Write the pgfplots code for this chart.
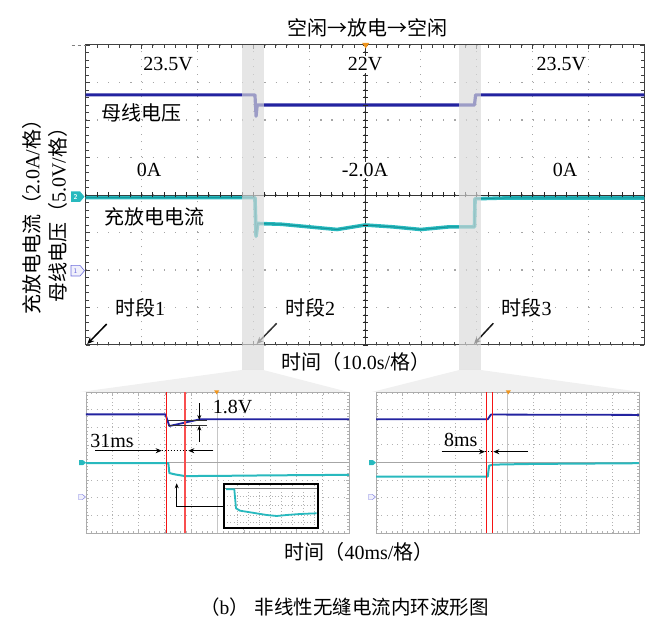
\documentclass[border=0pt]{standalone}
\usepackage{pgfplots}
\pgfplotsset{compat=1.18}
\usepackage{fontspec}
\setmainfont{Liberation Serif}
\newfontfamily\cjk{Noto Sans CJK SC}
\usetikzlibrary{arrows.meta}
\definecolor{scblue}{RGB}{35,35,160}
\definecolor{sccyan}{RGB}{40,185,190}
\definecolor{scteal}{RGB}{20,150,155}
\definecolor{bandc}{gray}{0.85}
\definecolor{scorange}{RGB}{240,150,30}
\definecolor{tagblue}{RGB}{110,110,220}
\definecolor{scred}{RGB}{245,20,20}
\newcommand\fs{\fontsize{20}{24}\selectfont}
\pgfplotsset{
 sub/.style={scale only axis, width=263pt, height=141pt, anchor=south west,
  xmin=0,xmax=10,ymin=-4,ymax=4, xtick={0,...,10}, ytick={-4,...,4},
  xticklabels={}, yticklabels={},
  minor x tick num=4, minor y tick num=4, tick align=inside,
  major tick length=2.5pt, minor tick length=1.8pt,
  every tick/.style={gray!60, line width=0.4pt},
  axis line style={gray!65, line width=0.8pt},
  axis background/.style={fill=white},
  xmajorgrids, ymajorgrids,
  grid style={gray!60, line width=0.8pt},
  every axis x grid/.append style={dash pattern=on 0.9pt off 2.625pt},
  every axis y grid/.append style={dash pattern=on 0.9pt off 4.36pt},
 }
}
\begin{document}
\begin{tikzpicture}
\begin{scope}[x=1pt,y=1pt]
\path[use as bounding box] (0,0) rectangle (665,627);
% funnels (background)
\fill[gray!12] (241.7,257) -- (263.3,257) -- (348.3,235) -- (80,235) -- cycle;
\fill[gray!12] (459.3,257) -- (480.7,257) -- (641,235) -- (372,235) -- cycle;
\end{scope}

% ---------- main scope ----------
\begin{axis}[
 at={(85.7pt,282pt)}, anchor=south west, scale only axis, width=558.6pt, height=300pt,
 xmin=0,xmax=10,ymin=-4,ymax=4,
 xtick={0,...,10}, ytick={-4,...,4}, xticklabels={}, yticklabels={},
 minor x tick num=4, minor y tick num=4,
 tick align=inside, major tick length=4pt, minor tick length=3pt,
 every tick/.style={gray!50!black, line width=0.6pt},
 axis line style={gray!50!black, line width=1pt},
 xmajorgrids, ymajorgrids,
 grid style={gray!70, line width=1.1pt},
 every axis x grid/.append style={dash pattern=on 1.2pt off 6.3pt},
 every axis y grid/.append style={dash pattern=on 1.2pt off 9.972pt},
]
\draw[gray!40!black, line width=0.9pt] (axis cs:0,0) -- (axis cs:10,0);
\draw[black!80, line width=0.9pt] (axis cs:5,-4) -- (axis cs:5,4);
\addplot[scblue, line width=3.2pt, line join=round] coordinates {
 (0,2.67)(3.03,2.67)(3.05,2.1)(3.07,2.4)(4,2.4)(5,2.4)(6,2.4)(6.96,2.4)(6.98,2.67)(10,2.67)};
\addplot[sccyan, line width=3.6pt, line join=round] coordinates {
 (0,-0.07)(3.03,-0.07)(3.05,-1.1)(3.08,-0.76)(3.5,-0.78)(4,-0.85)(4.5,-0.92)(5,-0.8)(5.5,-0.85)(6,-0.92)(6.5,-0.85)(6.96,-0.85)(6.97,-0.1)(7.5,-0.08)(10,-0.08)};
\addplot[scteal, line width=1pt, line join=round] coordinates {
 (0,-0.07)(3.03,-0.07)(3.05,-1.1)(3.08,-0.76)(3.5,-0.78)(4,-0.85)(4.5,-0.92)(5,-0.8)(5.5,-0.85)(6,-0.92)(6.5,-0.85)(6.96,-0.85)(6.97,-0.1)(7.5,-0.08)(10,-0.08)};
\end{axis}

% ---------- left subplot ----------
\begin{axis}[sub, at={(86pt,94pt)}]
\draw[gray!45, line width=0.6pt] (axis cs:5,-4) -- (axis cs:5,4);
\draw[gray!70, line width=0.8pt] (axis cs:0,0) -- (axis cs:10,0);
\addplot[scblue, line width=1.8pt, line join=round] coordinates {
 (0,2.73)(3.02,2.73)(3.17,2.07)(4.33,2.45)(10,2.45)};
\addplot[sccyan, line width=2pt, line join=round] coordinates {
 (0,-0.03)(3.13,-0.03)(3.17,-0.6)(3.4,-0.68)(3.76,-0.77)(5,-0.76)(7,-0.73)(10,-0.7)};
\addplot[scred, line width=1.3pt] coordinates {(3.05,-4)(3.05,4)};
\addplot[scred!75, line width=1.3pt] coordinates {(3.76,-4)(3.76,4)};
\end{axis}

% ---------- right subplot ----------
\begin{axis}[sub, at={(376pt,94pt)}]
\draw[gray!45, line width=0.6pt] (axis cs:5,-4) -- (axis cs:5,4);
\draw[gray!70, line width=0.8pt] (axis cs:0,0) -- (axis cs:10,0);
\addplot[scblue, line width=1.8pt, line join=round] coordinates {
 (0,2.45)(4.25,2.45)(4.37,2.72)(10,2.7)};
\addplot[sccyan, line width=2pt, line join=round] coordinates {
 (0,-0.8)(4.25,-0.8)(4.3,-0.18)(4.45,-0.12)(6,-0.08)(10,-0.04)};
\addplot[scred, line width=1.2pt] coordinates {(4.21,-4)(4.21,4)};
\addplot[scred, line width=1.2pt] coordinates {(4.42,-4)(4.42,4)};
\end{axis}

% ---------- inset ----------
\begin{axis}[at={(224pt,99.3pt)}, anchor=south west, scale only axis, width=94.3pt, height=43.7pt,
 xmin=224,xmax=318.3,ymin=99.3,ymax=143,
 xtick={237,248,259,270,281,292,303,314}, ytick={104.7,112,122,130.3},
 xticklabels={}, yticklabels={}, major tick length=0pt,
 axis line style={black, line width=2pt},
 axis background/.style={fill=white},
 xmajorgrids, ymajorgrids,
 grid style={gray!60, line width=0.7pt, dash pattern=on 0.8pt off 2.4pt},
]
\draw[gray, line width=0.6pt] (axis cs:225,138.7) -- (axis cs:317,138.7);
\addplot[sccyan, line width=1.8pt, line join=round] coordinates {
 (226,137.7)(234.3,137.7)(236,118.7)(240,116.3)(250,114.7)(266.7,112)(276.7,111)(286.7,112)(300,113)(316.7,113.7)};
\end{axis}

\begin{scope}[x=1pt,y=1pt]
% center cross ticks
\foreach \k in {0,...,40} {\draw[gray!30!black, line width=0.5pt] (362.5,282+7.5*\k) -- (367.5,282+7.5*\k);}
\foreach \k in {0,...,50} {\draw[gray!30!black, line width=0.5pt] (85.7+11.172*\k,429.5) -- (85.7+11.172*\k,434.5);}

% arrows in main plot
\draw[black, line width=1.5pt, -{Stealth[length=7pt,width=6pt]}] (106.7,303) -- (87.3,283);
\draw[gray!40!black, line width=1.5pt, -{Stealth[length=7pt,width=6pt]}] (276.7,303.7) -- (256.7,283);
\draw[gray!20!black, line width=1.5pt, -{Stealth[length=7pt,width=6pt]}] (493.3,303.7) -- (474,283);

% bands (semi-transparent overlay)
\fill[bandc, opacity=0.667] (242.3,582) rectangle (264,257);
\fill[bandc, opacity=0.667] (459.3,582) rectangle (480.7,257);

% markers
\draw[gray, dashed, line width=0.6pt] (71.7,582) -- (85.7,582);
\fill[scorange] (362.2,584) -- (369.2,584) -- (365.7,578.5) -- cycle;
\fill[sccyan] (71,425) -- (80,425) -- (84.5,430.3) -- (80,435.6) -- (71,435.6) -- cycle;
\node[font=\sffamily\bfseries\fontsize{7}{7}\selectfont, text=white, inner sep=0] at (75.5,430.3) {2};
\draw[fill=tagblue!10, draw=tagblue, line width=0.6pt] (71,351) -- (80,351) -- (84.5,356.3) -- (80,361.6) -- (71,361.6) -- cycle;
\node[font=\sffamily\fontsize{7}{7}\selectfont, text=tagblue, inner sep=0] at (75.5,356.3) {1};

% main texts
\node[font=\fs] at (367,598.7) {\cjk 空闲→放电→空闲};
\node[font=\fs] at (168,562.7) {23.5V};
\node[font=\fs, fill=white, inner sep=1.5pt] at (365,562.7) {22V};
\node[font=\fs] at (561.3,562.7) {23.5V};
\node[font=\fs\cjk] at (141,513.7) {母线电压};
\node[font=\fs] at (149,457) {0A};
\node[font=\fs, fill=white, inner sep=1.5pt] at (365,457) {-2.0A};
\node[font=\fs] at (565,457) {0A};
\node[font=\fs\cjk] at (154,410.3) {充放电电流};
\node[font=\fs] at (140,318.7) {{\cjk 时段}1};
\node[font=\fs] at (310,318.7) {{\cjk 时段}2};
\node[font=\fs] at (526.7,318.7) {{\cjk 时段}3};
\node[font=\fs, rotate=90] at (31.7,414.5) {{\cjk 充放电电流（}2.0A/{\cjk 格）}};
\node[font=\fs, rotate=90] at (58,416.5) {{\cjk 母线电压（}5.0V/{\cjk 格）}};
\node[font=\fs] at (356,265.3) {{\cjk 时间（}10.0s/{\cjk 格）}};

% subplot markers
\fill[scorange] (214.2,236.5) -- (219.2,236.5) -- (216.7,232.5) -- cycle;
\fill[scorange] (505.8,236.5) -- (510.8,236.5) -- (508.3,232.5) -- cycle;
\fill[sccyan] (79,161.8) -- (83,161.8) -- (86,164.3) -- (83,166.8) -- (79,166.8) -- cycle;
\fill[sccyan] (369,161.8) -- (373,161.8) -- (376,164.3) -- (373,166.8) -- (369,166.8) -- cycle;
\draw[tagblue, fill=tagblue!10, line width=0.4pt] (78.5,127.5) -- (82.5,127.5) -- (85.5,130) -- (82.5,132.5) -- (78.5,132.5) -- cycle;
\draw[tagblue, fill=tagblue!10, line width=0.4pt] (368.5,127.5) -- (372.5,127.5) -- (375.5,130) -- (372.5,132.5) -- (368.5,132.5) -- cycle;

% left subplot annotations
\draw[black!80, line width=0.8pt] (168.3,207) -- (206.7,207);
\draw[black!80, line width=0.8pt] (168.3,201.5) -- (206.7,201.5);
\draw[black, line width=0.9pt, -{Stealth[length=5pt,width=4pt]}] (199.3,223.7) -- (199.3,207);
\draw[black, line width=0.9pt, -{Stealth[length=5pt,width=4pt]}] (199.3,185.3) -- (199.3,201.5);
\node[font=\fs] at (232.5,220.3) {1.8V};
\node[font=\fs] at (112,186.3) {31ms};
\draw[black, line width=1pt, -{Stealth[length=6pt,width=5pt]}] (95,176.3) -- (161.7,176.3);
\draw[black, line width=1pt, dotted] (161.7,176.3) -- (188.3,176.3);
\draw[black, line width=1pt, -{Stealth[length=6pt,width=5pt]}] (213.3,176.3) -- (188.3,176.3);
\draw[black, line width=0.9pt, -{Stealth[length=5pt,width=4pt]}] (223.3,120.3) -- (176.7,120.3) -- (176.7,143.7);

% right subplot annotations
\node[font=\fs] at (460.8,187) {8ms};
\draw[black, line width=1pt, -{Stealth[length=6pt,width=5pt]}] (441.7,175.3) -- (485,175.3);
\draw[black, line width=1pt, dotted] (485,175.3) -- (493.3,175.3);
\draw[black, line width=1pt, -{Stealth[length=6pt,width=5pt]}] (528,175.3) -- (493.3,175.3);

% bottom labels
\node[font=\fs] at (359,75.3) {{\cjk 时间（}40ms/{\cjk 格）}};
\node[font=\fontsize{19.5}{23}\selectfont] at (344.5,20.3) {{\cjk （}b{\cjk ）}\hspace{6pt}{\cjk 非线性无缝电流内环波形图}};
\end{scope}
\end{tikzpicture}
\end{document}
